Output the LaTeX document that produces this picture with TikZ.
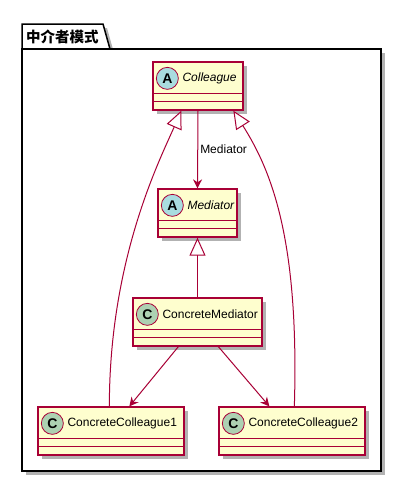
\documentclass[tikz,border=0pt]{standalone}
\usepackage{fontspec}
\setmainfont{Liberation Sans}
\newfontfamily\cjkfont{Noto Sans CJK SC}
\usetikzlibrary{arrows.meta,shadows,calc}
\definecolor{umlline}{HTML}{A80036}
\definecolor{umlfill}{HTML}{FEFECE}
\definecolor{abscirc}{HTML}{A9DCDF}
\definecolor{clscirc}{HTML}{ADD1B2}
\begin{document}
\begin{tikzpicture}[x=1pt,y=-1pt,
  umlshadow/.style={drop shadow={shadow xshift=4pt,shadow yshift=-4pt,opacity=0.3,fill=black}},
  classbox/.style={draw=umlline,fill=umlfill,line width=1.3pt,minimum height=48pt,inner sep=0pt,umlshadow},
  sepline/.style={draw=umlline,line width=1pt},
  badge/.style={circle,draw=umlline,line width=0.8pt,minimum size=22pt,inner sep=0pt,font=\bfseries\fontsize{14}{14}\selectfont},
  cname/.style={anchor=west,inner sep=0pt,font=\fontsize{12}{14}\selectfont},
  aname/.style={anchor=west,inner sep=0pt,font=\itshape\fontsize{12}{14}\selectfont},
  rel/.style={draw=umlline,line width=1pt},
  dep/.style={rel,-{Stealth[length=9pt,width=9pt,inset=3pt]}},
  gen/.style={rel,-{Triangle[length=18pt,width=16pt,fill=white]}},
  pkgline/.style={draw=black,line width=1.5pt,fill=white,umlshadow},
]
\useasboundingbox (0,0) rectangle (402,482);
% package
\draw[pkgline] (22,49) -- (22,24) -- (103,24) -- (110,49) -- cycle;
\node[pkgline,rectangle,minimum width=359pt,minimum height=422pt,inner sep=0pt] (pkg) at (201.5,260) {};
\node[anchor=west,inner sep=0pt,font=\cjkfont\bfseries\fontsize{14.5}{16}\selectfont] (pkgname) at (26,37) {中介者模式};

% classes
\node[classbox,minimum width=90pt] (colleague) at (198,86) {};
\node[classbox,minimum width=79pt] (mediator) at (197.5,213) {};
\node[classbox,minimum width=129pt] (cm) at (197.5,322) {};
\node[classbox,minimum width=146pt] (cc1) at (111,431) {};
\node[classbox,minimum width=146pt] (cc2) at (292,431) {};

\foreach \n in {colleague,mediator,cm,cc1,cc2}{
  \draw[sepline] ($(\n.north west)+(0,32)$) -- ($(\n.north east)+(0,32)$);
  \draw[sepline] ($(\n.north west)+(0,40)$) -- ($(\n.north east)+(0,40)$);
}

\node[badge,fill=abscirc] (colleagueb) at ($(colleague.north west)+(15,17)$) {A};
\node[aname] (colleaguet) at ($(colleague.north west)+(30,17)$) {Colleague};
\node[badge,fill=abscirc] (mediatorb) at ($(mediator.north west)+(15,17)$) {A};
\node[aname] (mediatort) at ($(mediator.north west)+(30,17)$) {Mediator};
\node[badge,fill=clscirc] (cmb) at ($(cm.north west)+(15,17)$) {C};
\node[cname] (cmt) at ($(cm.north west)+(30,17)$) {ConcreteMediator};
\node[badge,fill=clscirc] (cc1b) at ($(cc1.north west)+(15,17)$) {C};
\node[cname] (cc1t) at ($(cc1.north west)+(30,17)$) {ConcreteColleague1};
\node[badge,fill=clscirc] (cc2b) at ($(cc2.north west)+(15,17)$) {C};
\node[cname] (cc2t) at ($(cc2.north west)+(30,17)$) {ConcreteColleague2};

% relations
\draw[dep] (colleague.south) -- node[right,inner sep=2pt,font=\fontsize{12}{14}\selectfont] {Mediator} (mediator.north);
\draw[gen] (cm.north) -- (mediator.south);
\draw[dep] ($(cm.south west)+(46,0)$) -- ($(cc1.north west)+(92,0)$);
\draw[dep] ($(cm.south west)+(86,0)$) -- ($(cc2.north west)+(51,0)$);
\draw[gen] ($(cc1.north west)+(72,0)$) .. controls +(0,-147) and +(-22,50) .. ($(colleague.south west)+(29,0)$);
\draw[gen] ($(cc2.north west)+(76,0)$) .. controls +(5,-167) and +(38,60) .. ($(colleague.south west)+(81,0)$);
\end{tikzpicture}
\end{document}
